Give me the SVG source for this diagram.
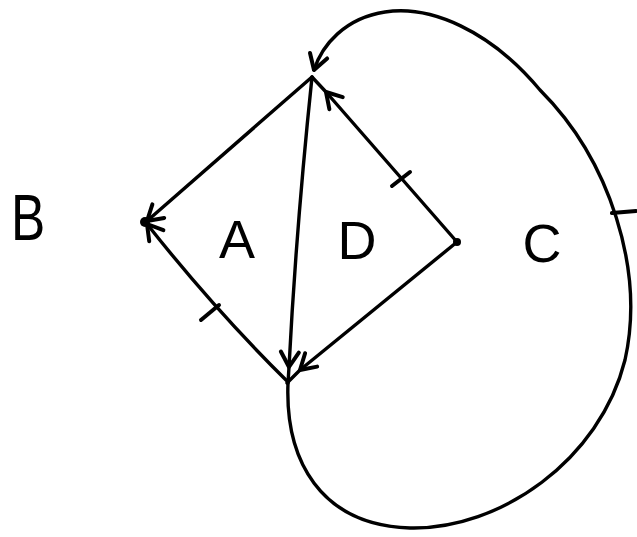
<svg xmlns="http://www.w3.org/2000/svg" width="637" height="537" viewBox="0 0 637 537">
<defs>
<marker id="arr" markerUnits="userSpaceOnUse" markerWidth="40" markerHeight="40" refX="0" refY="0" viewBox="-20 -20 40 40" orient="auto" overflow="visible">
<path d="M-15,-9 L0,0 L-15,9" fill="none" stroke="#000" stroke-width="4" stroke-linecap="round" stroke-linejoin="round"/>
</marker>
<style>
.e{fill:none;stroke:#000;stroke-width:3.4;stroke-linecap:round;stroke-linejoin:round}
.t{fill:none;stroke:#000;stroke-width:4;stroke-linecap:round}
.lbl{font-family:"Liberation Sans",Arial,sans-serif;font-size:54px;fill:#000;text-anchor:middle}
</style>
</defs>
<rect width="637" height="537" fill="#fff"/>
<g id="connectors">
<path class="e" d="M312,77 L147,221" marker-end="url(#arr)"/>
<path class="e" d="M288,382 Q215,310 147,224" marker-end="url(#arr)"/>
<path class="e" d="M312,77 Q296,230 289,367 L288,383" marker-mid="url(#arr)"/>
<path class="e" d="M457,242 L300,370 L287,383" marker-mid="url(#arr)"/>
<path class="e" d="M457,242 L326,92 L312,77" marker-mid="url(#arr)"/>
<path class="e" d="M288,383 C285,460 320,525 410,528 C500,530 600,460 625,360 C645,270 610,160 540,90 C490,30 430,5 385,12 C345,18 322,45 314,70" marker-end="url(#arr)"/>
<line class="t" x1="392" y1="186" x2="410" y2="172"/>
<line class="t" x1="201" y1="320" x2="219" y2="305"/>
<line class="t" x1="612" y1="213" x2="636" y2="211"/>
</g>
<g id="node-B"><circle cx="145" cy="222" r="5"/><text class="lbl" x="28" y="240" transform="translate(28 240) scale(0.95 1.2) translate(-28 -240)">B</text></g>
<g id="node-A"><text class="lbl" x="237" y="258">A</text></g>
<g id="node-D"><text class="lbl" x="357" y="259">D</text></g>
<g id="node-C"><circle cx="457" cy="242" r="4"/><text class="lbl" x="542" y="262">C</text></g>
</svg>
